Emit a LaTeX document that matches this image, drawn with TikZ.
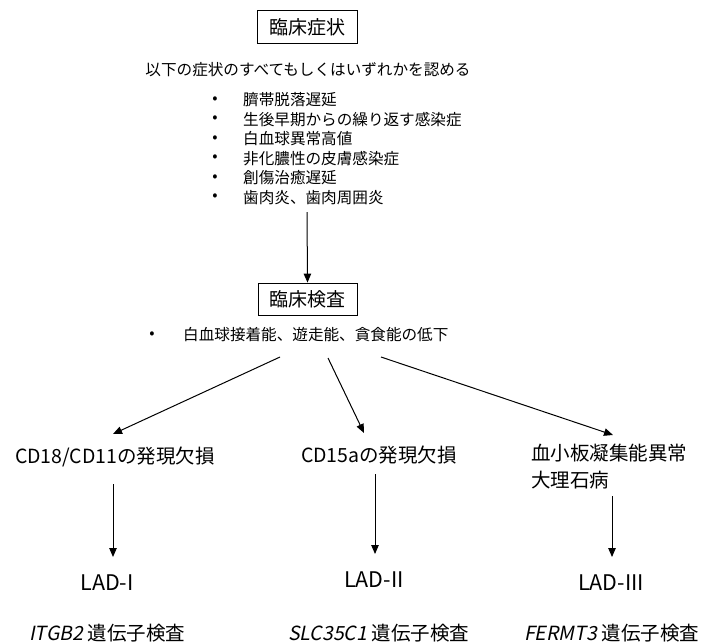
\documentclass[tikz,border=0pt]{standalone}
\usepackage{fontspec}
\setmainfont{Noto Sans CJK JP}
\newfontfamily\jpit[FakeSlant=0.2]{Noto Sans CJK JP}
\usetikzlibrary{arrows.meta}
\tikzset{
  box/.style={draw, line width=0.9pt, minimum width=100pt, minimum height=33pt, inner sep=0pt, font=\fontsize{19}{22}\selectfont},
  txt/.style={inner sep=0pt, font=\fontsize{15.6}{19}\selectfont},
  mid/.style={inner sep=0pt, font=\fontsize{19.5}{22}\selectfont},
  lad/.style={inner sep=0pt, font=\fontsize{21.5}{24}\selectfont},
  arr/.style={line width=1pt, -{Triangle[length=9pt,width=7.5pt]}},
}
\begin{document}
\begin{tikzpicture}[x=1pt,y=-1pt]
\useasboundingbox (0,0) rectangle (703,643);
\node[box] (s) at (307,27) {臨床症状};
\node[txt] (h) at (308,70) {以下の症状のすべてもしくはいずれかを認める};
\node[txt] (b1) at (215,100) {•}; \node[txt,anchor=west] (l1) at (243,100) {臍帯脱落遅延};
\node[txt] (b2) at (215,119.5) {•}; \node[txt,anchor=west] (l2) at (243,119.5) {生後早期からの繰り返す感染症};
\node[txt] (b3) at (215,139) {•}; \node[txt,anchor=west] (l3) at (243,139) {白血球異常高値};
\node[txt] (b4) at (215,158.5) {•}; \node[txt,anchor=west] (l4) at (243,158.5) {非化膿性の皮膚感染症};
\node[txt] (b5) at (215,178) {•}; \node[txt,anchor=west] (l5) at (243,178) {創傷治癒遅延};
\node[txt] (b6) at (215,197.5) {•}; \node[txt,anchor=west] (l6) at (243,197.5) {歯肉炎、歯肉周囲炎};
\coordinate (c0) at (307,212);
\node[box, minimum height=32pt, minimum width=99pt] (e) at (307.5,299) {臨床検査};
\draw[arr] (c0) -- (e.north);
\node[txt] (bb) at (152,335) {•};
\node[txt,anchor=west] (t) at (183,335) {白血球接着能、遊走能、貪食能の低下};
\coordinate (a1) at (280,357); \coordinate (a1e) at (113,434);
\coordinate (a2) at (328,358); \coordinate (a2e) at (364,433);
\coordinate (a3) at (381,357); \coordinate (a3e) at (613,435);
\draw[arr] (a1) -- (a1e);
\draw[arr] (a2) -- (a2e);
\draw[arr] (a3) -- (a3e);
\node[mid] (m1) at (115,457) {CD18/CD11の発現欠損};
\node[mid] (m2) at (379,455) {CD15aの発現欠損};
\node[mid,anchor=west] (m3) at (531,453) {血小板凝集能異常};
\node[mid,anchor=west] (m3b) at (531,480) {大理石病};
\coordinate (v1) at (113,484); \coordinate (v2) at (375,474); \coordinate (v3) at (612,496);
\coordinate (v1e) at (113,557); \coordinate (v2e) at (375,554); \coordinate (v3e) at (612,557);
\node[lad] (d1) at (107,583) {LAD-I};
\node[lad] (d2) at (374,580) {LAD-II};
\node[lad] (d3) at (611,583) {LAD-III};
\draw[arr] (v1) -- (v1e);
\draw[arr] (v2) -- (v2e);
\draw[arr] (v3) -- (v3e);
\node[mid,anchor=west] (g1) at (29,633) {{\jpit ITGB2} 遺伝子検査};
\node[mid,anchor=west] (g2) at (288,633) {{\jpit SLC35C1} 遺伝子検査};
\node[mid,anchor=west] (g3) at (524,633) {{\jpit FERMT3} 遺伝子検査};
\end{tikzpicture}
\end{document}
